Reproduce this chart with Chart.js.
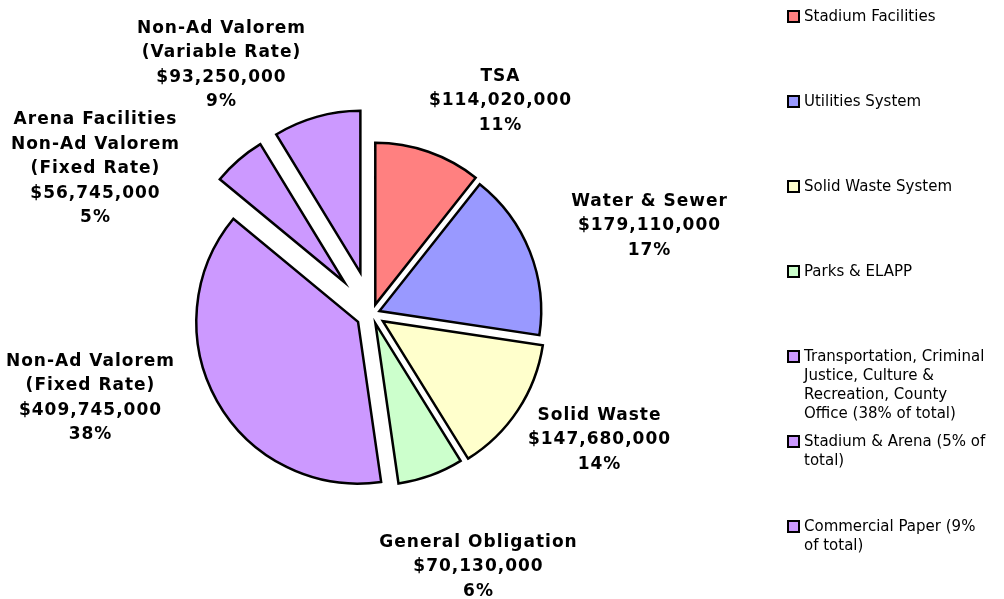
<!DOCTYPE html>
<html>
<head>
<meta charset="utf-8">
<script src="https://cdn.jsdelivr.net/npm/chart.js@4.4.1/dist/chart.umd.min.js"></script>
<style>
  html, body { margin: 0; padding: 0; background: #fff; }
  #wrap { position: relative; width: 1004px; height: 599px; overflow: hidden; }
  #legend { position: absolute; left: 787px; top: 0; width: 217px;
            font-family: 'DejaVu Sans', sans-serif; font-size: 15px; line-height: 19px; color: #000; }
  .item { position: absolute; left: 0; display: flex; align-items: flex-start; }
  .box { flex: none; width: 9px; height: 9px; border: 2px solid #000; margin-top: 3px; margin-right: 4px; }
  .txt { width: 185px; }
</style>
</head>
<body>
<div id="wrap">
  <canvas id="pie" width="1004" height="599"></canvas>
  <div id="legend"></div>
</div>
<script>
// legend names (Chart.js labels)
const legendLabels = [
  'Stadium Facilities',
  'Utilities System',
  'Solid Waste System',
  'Parks & ELAPP',
  'Transportation, Criminal Justice, Culture & Recreation, County Office (38% of total)',
  'Stadium & Arena (5% of total)',
  'Commercial Paper (9% of total)'
];

// names written next to the slices
const sliceNames = [
  ['TSA'],
  ['Water & Sewer'],
  ['Solid Waste'],
  ['General Obligation'],
  ['Non-Ad Valorem', '(Fixed Rate)'],
  ['Arena Facilities', 'Non-Ad Valorem', '(Fixed Rate)'],
  ['Non-Ad Valorem', '(Variable Rate)']
];

// dollar amounts
const amounts = [114020000, 179110000, 147680000, 70130000, 409745000, 56745000, 93250000];

// percent shown on the labels
const percents = [11, 17, 14, 6, 38, 5, 9];

const colors = ['#FF8080', '#9999FF', '#FFFFCC', '#CCFFCC', '#CC99FF', '#CC99FF', '#CC99FF'];

// how far (px) each slice is pulled out from the centre
const explode = [10, 8, 13, 10, 16, 42, 43];

// label block centres, relative to the pie centre
const labelShift = [
  [128, -213], [277, -88], [227, 126], [106, 253],
  [-282, 84], [-277, -145], [-151, -249]
];

// Plugin: geser tiap potongan keluar tanpa mengubah jari-jarinya
const explodeSlices = {
  id: 'explodeSlices',
  beforeDatasetDraw(chart, args) {
    const ctx = chart.ctx;
    args.meta.data.forEach((arc, i) => {
      const mid = (arc.startAngle + arc.endAngle) / 2;
      ctx.save();
      ctx.translate(Math.cos(mid) * explode[i], Math.sin(mid) * explode[i]);
      arc.draw(ctx);
      ctx.restore();
    });
    return false;
  }
};

// Plugin untuk label di samping potongan
const sliceLabels = {
  id: 'sliceLabels',
  afterDatasetsDraw(chart) {
    const ctx = chart.ctx;
    const meta = chart.getDatasetMeta(0);
    const lineH = 24.5;
    ctx.save();
    ctx.font = 'bold 17px "DejaVu Sans"';
    ctx.letterSpacing = '1px';
    ctx.fillStyle = '#000';
    ctx.textAlign = 'center';
    ctx.textBaseline = 'middle';
    meta.data.forEach((arc, i) => {
      const lines = sliceNames[i].concat(['$' + amounts[i].toLocaleString('en-US'), percents[i] + '%']);
      const x = arc.x + labelShift[i][0];
      const y0 = arc.y + labelShift[i][1] - (lines.length - 1) * lineH / 2;
      lines.forEach((t, k) => ctx.fillText(t, x + 0.5, y0 + k * lineH));
    });
    ctx.restore();
  }
};

const chart = new Chart(document.getElementById('pie'), {
  type: 'pie',
  data: {
    labels: legendLabels,
    datasets: [{
      data: amounts,
      backgroundColor: colors,
      borderColor: '#000',
      borderWidth: 2.5,
      borderJoinStyle: 'miter',
      hoverOffset: 0
    }]
  },
  options: {
    responsive: false,
    animation: false,
    events: [],
    layout: { padding: { left: 209, top: 151, right: 469, bottom: 122 } },
    plugins: {
      legend: { display: false },
      tooltip: { enabled: false }
    }
  },
  plugins: [explodeSlices, sliceLabels]
});

// legend dibuat sebagai HTML
const legendEl = document.getElementById('legend');
chart.data.labels.forEach((lbl, i) => {
  const item = document.createElement('div');
  item.className = 'item';
  item.style.top = (6.5 + i * 85) + 'px';
  item.innerHTML = '<span class="box" style="background:' + colors[i] + '"></span><span class="txt"></span>';
  item.querySelector('.txt').textContent = lbl;
  legendEl.appendChild(item);
});
</script>
</body>
</html>
